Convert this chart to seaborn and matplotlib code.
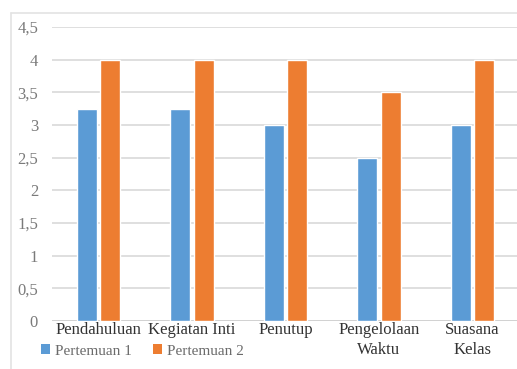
import matplotlib
matplotlib.use("Agg")
import matplotlib.pyplot as plt
from matplotlib.lines import Line2D
from matplotlib.patches import Patch
import seaborn as sns
import pandas as pd

# Scores per teaching aspect for the two meetings
categories = ["Pendahuluan", "Kegiatan Inti", "Penutup", "Pengelolaan\nWaktu", "Suasana\nKelas"]
pertemuan_1 = [3.25, 3.25, 3.0, 2.5, 3.0]
pertemuan_2 = [4.0, 4.0, 4.0, 3.5, 4.0]
series_names = ["Pertemuan 1", "Pertemuan 2"]
y_ticks = [0, 0.5, 1, 1.5, 2, 2.5, 3, 3.5, 4, 4.5]
y_tick_labels = ["0", "0,5", "1", "1,5", "2", "2,5", "3", "3,5", "4", "4,5"]

colors = ["#5B9BD5", "#ED7D31"]

df = pd.DataFrame({
    "Aspek": categories * 2,
    "Skor": pertemuan_1 + pertemuan_2,
    "Seri": [series_names[0]] * len(categories) + [series_names[1]] * len(categories),
})

sns.set_style("white")
plt.rcParams["font.family"] = ["Liberation Serif", "DejaVu Serif"]

W, H = 517, 369
fig = plt.figure(figsize=(W / 100, H / 100), dpi=100)
ax = fig.add_axes([52 / W, 48 / H, 467 / W, 294 / H])

sns.barplot(data=df, x="Aspek", y="Skor", hue="Seri", order=categories,
            hue_order=series_names, palette=colors, width=0.5, gap=0.14,
            saturation=1, ax=ax, legend=False, errorbar=None, zorder=3)

ax.set_xlim(-0.5, len(categories) - 0.5)
ax.set_ylim(0, 4.5)
ax.set_yticks(y_ticks)
ax.set_yticklabels(y_tick_labels, color="#7a7a7a", fontsize=12)
ax.tick_params(axis="x", labelsize=12, colors="#333333", pad=1, length=0)
ax.tick_params(axis="y", length=0, pad=10)
ax.yaxis.grid(True, color="#d9d9d9", linewidth=1.2, zorder=0)
ax.set_axisbelow(True)
ax.set_xlabel("")
ax.set_ylabel("")
for s in ax.spines.values():
    s.set_visible(False)
ax.axhline(0, color="#d0d0d0", linewidth=1.2, zorder=1)
for lbl in ax.get_xticklabels():
    lbl.set_linespacing(1.3)

# Light chart frame
fig.add_artist(Line2D([11 / W, 1], [1 - 13 / H, 1 - 13 / H], color="#e3e3e3", linewidth=1.2))
fig.add_artist(Line2D([11 / W, 11 / W], [0, 1 - 13 / H], color="#e3e3e3", linewidth=1.2))

handles = [Patch(facecolor=c, edgecolor="none") for c in colors]
leg = fig.legend(handles, series_names, loc="center left",
                 bbox_to_anchor=(35 / W, 1 - 351 / H), ncol=2, frameon=False,
                 fontsize=11, handlelength=0.6, handleheight=0.6,
                 handletextpad=0.3, columnspacing=1.4, borderaxespad=0)
for t in leg.get_texts():
    t.set_color("#6b6b6b")

fig.savefig("out.png", dpi=100, facecolor="white")
